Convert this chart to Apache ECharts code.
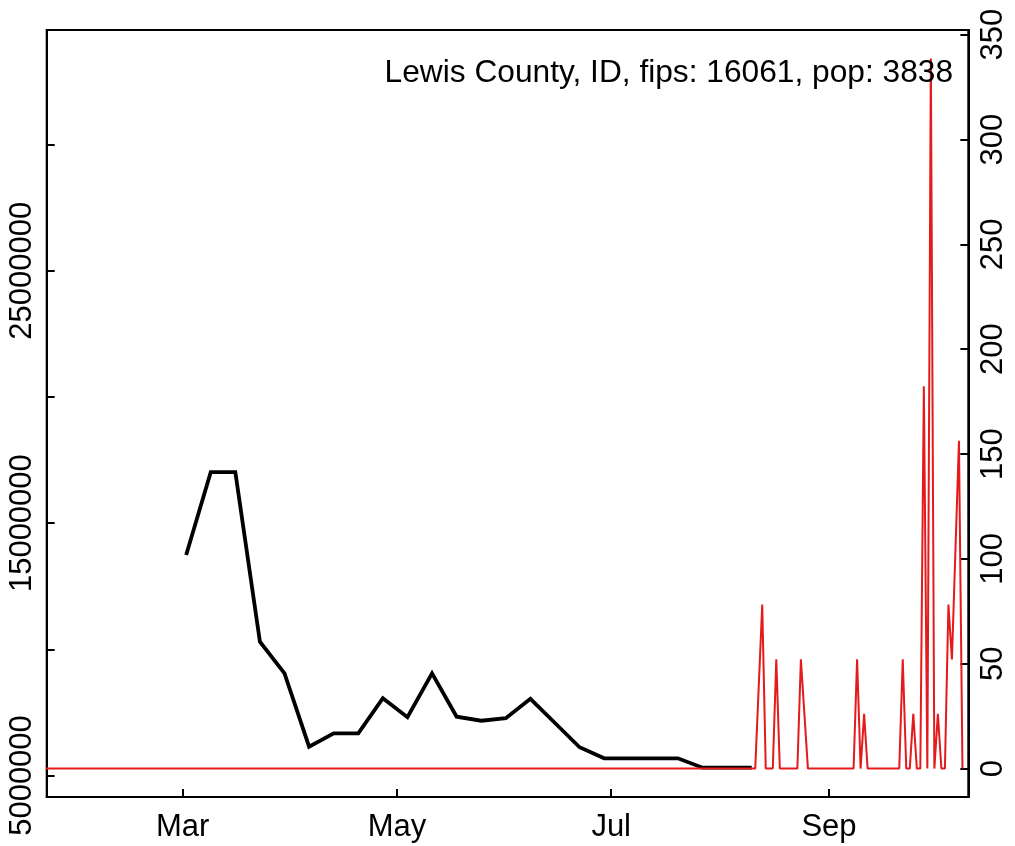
<!DOCTYPE html>
<html><head><meta charset="utf-8">
<script src="https://cdn.jsdelivr.net/npm/echarts@6/dist/echarts.min.js"></script>
<style>html,body{margin:0;padding:0;background:#fff}#c{width:1015px;height:846px}</style>
</head><body><div id="c"></div>
<script>
const titleText = "Lewis County, ID, fips: 16061, pop: 3838";

// weekly series (left axis)
const weekDates = ["2020-03-02","2020-03-09","2020-03-16","2020-03-23","2020-03-30","2020-04-06",
  "2020-04-13","2020-04-20","2020-04-27","2020-05-04","2020-05-11","2020-05-18","2020-05-25",
  "2020-06-01","2020-06-08","2020-06-15","2020-06-22","2020-06-29","2020-07-06","2020-07-13",
  "2020-07-20","2020-07-27","2020-08-03","2020-08-10"];
const weekValues = [13740000,17020000,17020000,10300000,9050000,6140000,6670000,6670000,8060000,7310000,
  9050000,7330000,7170000,7270000,8040000,7080000,6120000,5680000,5680000,5680000,5680000,5310000,5310000,5310000];

// daily series (right axis), line vertices
const dayDates = ["2020-01-22","2020-08-11","2020-08-13","2020-08-14","2020-08-16","2020-08-17","2020-08-18",
  "2020-08-23","2020-08-24","2020-08-25","2020-08-26","2020-09-08","2020-09-09","2020-09-10","2020-09-11",
  "2020-09-12","2020-09-21","2020-09-22","2020-09-23","2020-09-24","2020-09-25","2020-09-26","2020-09-27",
  "2020-09-28","2020-09-29","2020-09-30","2020-10-01","2020-10-02","2020-10-03","2020-10-04","2020-10-05",
  "2020-10-06","2020-10-07","2020-10-08","2020-10-09"];
const dayValues = [0,0,78.2,0,0,52.1,0,
  0,52.1,26.1,0,0,52.1,0,26.1,
  0,0,52.1,0,0,26.1,0,0,
  182.4,0,338.7,0,26.1,0,0,78.2,
  52.1,104.2,156.3,0];

const monthTickDates = ["2020-03-01","2020-05-01","2020-07-01","2020-09-01"];
const monthTickLabels = ["Mar","May","Jul","Sep"];
const leftTicks = [5000000,10000000,15000000,20000000,25000000,30000000];
const leftLabels = [5000000,15000000,25000000];
const rightTicks = [0,50,100,150,200,250,300,350];

const ts = d => Date.parse(d);
const monthTs = monthTickDates.map(ts);
const DAY = 86400000;
const FONT = "'Liberation Sans', Arial, Helvetica, sans-serif";

const chart = echarts.init(document.getElementById('c'), null, {renderer: 'canvas'});
const tickStyle = {show: true, inside: true, length: 8, lineStyle: {color: '#000', width: 2}};
chart.setOption({
  animation: false,
  backgroundColor: '#fff',
  title: {
    text: titleText, right: 62, top: 57, padding: 0,
    textStyle: {fontSize: 31.7, fontWeight: 'normal', color: '#000', fontFamily: FONT}
  },
  grid: {left: 46.7, right: 46.7, top: 30, bottom: 49, show: true, borderColor: '#000', borderWidth: 2, containLabel: false},
  xAxis: {
    type: 'value',
    min: ts("2020-01-22") + 0.3 * DAY,
    max: ts("2020-10-10") + 0.66 * DAY,
    splitLine: {show: false},
    axisLine: {show: true, onZero: false, lineStyle: {color: '#000', width: 2}},
    axisTick: Object.assign({customValues: monthTs}, tickStyle),
    axisLabel: {
      customValues: monthTs, margin: 15, color: '#000', fontSize: 31, fontFamily: FONT,
      formatter: v => { const i = monthTs.indexOf(v); return i >= 0 ? monthTickLabels[i] : ''; }
    }
  },
  yAxis: [{
    type: 'value', position: 'left',
    min: 4148000, max: 34540000,
    splitLine: {show: false},
    axisLine: {show: true, lineStyle: {color: '#000', width: 2}},
    axisTick: Object.assign({customValues: leftTicks}, tickStyle),
    axisLabel: {customValues: leftLabels, rotate: 90, margin: 9, color: '#000', fontSize: 31, fontFamily: FONT,
      formatter: v => String(v)}
  }, {
    type: 'value', position: 'right',
    min: -13.55, max: 352.25,
    splitLine: {show: false},
    axisLine: {show: true, lineStyle: {color: '#000', width: 2}},
    axisTick: Object.assign({customValues: rightTicks}, tickStyle),
    axisLabel: {customValues: rightTicks, rotate: 90, margin: 10, color: '#000', fontSize: 31, fontFamily: FONT,
      formatter: v => String(v)}
  }],
  series: [{
    type: 'line', yAxisIndex: 0, showSymbol: false, symbol: 'none',
    data: weekDates.map((d, i) => [ts(d), weekValues[i]]),
    lineStyle: {color: '#000', width: 3.8, join: 'miter'}, z: 2
  }, {
    type: 'line', yAxisIndex: 1, showSymbol: false, symbol: 'none',
    data: dayDates.map((d, i) => [ts(d), dayValues[i]]),
    lineStyle: {color: '#E41A1C', width: 2}, z: 3
  }]
});
</script>
</body></html>
